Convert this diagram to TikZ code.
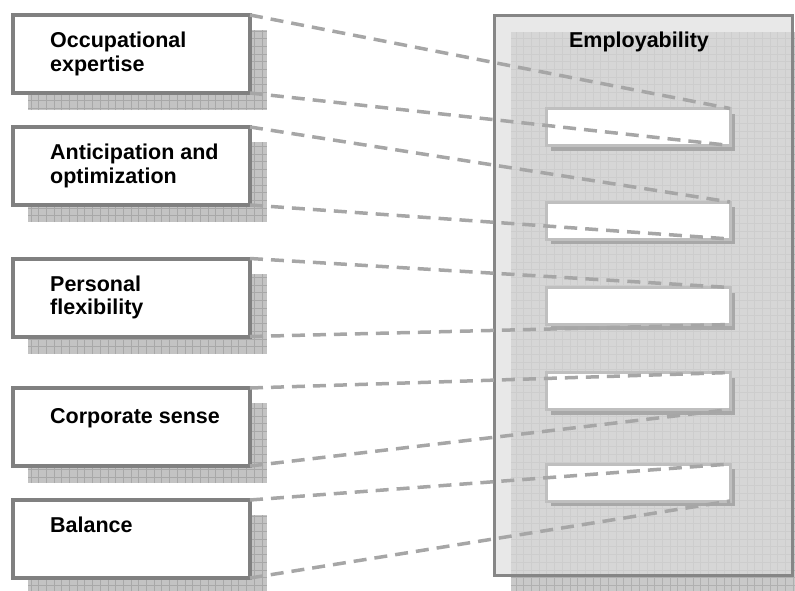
\documentclass[tikz,border=0pt]{standalone}
\usepackage{fontspec}
\setmainfont{Liberation Sans}
\usetikzlibrary{backgrounds,shadows}

% gridded shadow: #1 fill, #2 lines, #3 lower left, #4 upper right
\newcommand{\gridfill}[4]{%
  \begin{scope}
    \clip #3 rectangle #4;
    \fill[#1] #3 rectangle #4;
    \draw[#2, step=7.7pt] #3 grid #4;
  \end{scope}}

\begin{document}
\begin{tikzpicture}[x=1pt, y=-1pt,
  factor/.style={draw=gray, line width=4pt, fill=white, minimum width=237pt,
    minimum height=78pt, inner sep=0pt, outer sep=0pt},
  panel/.style={draw=gray!95, line width=3pt, minimum width=298pt,
    minimum height=560pt, inner sep=0pt, outer sep=0pt},
  slot/.style={draw=gray!50, line width=3pt, fill=white, minimum width=184pt,
    minimum height=37pt, inner sep=0pt, outer sep=0pt,
    drop shadow={shadow xshift=5pt, shadow yshift=-5pt, fill=gray!68, opacity=1}},
  lbl/.style={anchor=north west, inner sep=0pt, align=left,
    font=\fontsize{21.5}{23.5}\selectfont\bfseries},
  link/.style={draw=gray!70, line width=3.5pt, dash pattern=on 13pt off 8pt}]
  \useasboundingbox (0,0) rectangle (795,590);

  % the five factors on the left
  \node[factor] (occ)  at (131.5,54)    {};
  \node[factor] (anti) at (131.5,166)   {};
  \node[factor] (pers) at (131.5,297.5) {};
  \node[factor] (corp) at (131.5,427)   {};
  \node[factor] (bal)  at (131.5,539)   {};
  \node[lbl] at ([shift={(37,17)}]occ.north west)  {Occupational\\expertise};
  \node[lbl] at ([shift={(37,17)}]anti.north west) {Anticipation and\\optimization};
  \node[lbl] at ([shift={(37,17)}]pers.north west) {Personal\\flexibility};
  \node[lbl] at ([shift={(37,20)}]corp.north west) {Corporate sense};
  \node[lbl] at ([shift={(37,17)}]bal.north west)  {Balance};

  % employability panel with its slots
  \node[panel] (emp) at (643,295) {};
  \node[slot] (e1) at (638,127)   {};
  \node[slot] (e2) at (638,220.5) {};
  \node[slot] (e3) at (638,306)   {};
  \node[slot] (e4) at (638,391)   {};
  \node[slot] (e5) at (638,482.5) {};
  \node[lbl, anchor=base] at (639,47) {Employability};

  \begin{scope}[on background layer]
    \foreach \n in {occ,anti,pers,corp,bal}
      \gridfill{gray!47}{gray!68, line width=.45pt}
        {([shift={(15,17)}]\n.south west)}{([shift={(17,15)}]\n.north east)};
    \gridfill{gray!42}{gray!62, line width=.45pt}
      {([shift={(17,30)}]emp.south west)}{([shift={(30,17)}]emp.north east)};
    \fill[gray!18] (emp.north west) rectangle (emp.south east);
    \gridfill{gray!32}{gray!39, line width=.45pt}
      {([shift={(17,0)}]emp.south west)}{([shift={(0,17)}]emp.north east)};
  \end{scope}

  % dashed links from each factor to its slot
  \foreach \a/\b in {occ/e1, anti/e2, pers/e3, corp/e4, bal/e5}{
    \draw[link] (\a.north east) -- (\b.north east);
    \draw[link] (\a.south east) -- (\b.south east);
  }
\end{tikzpicture}
\end{document}
